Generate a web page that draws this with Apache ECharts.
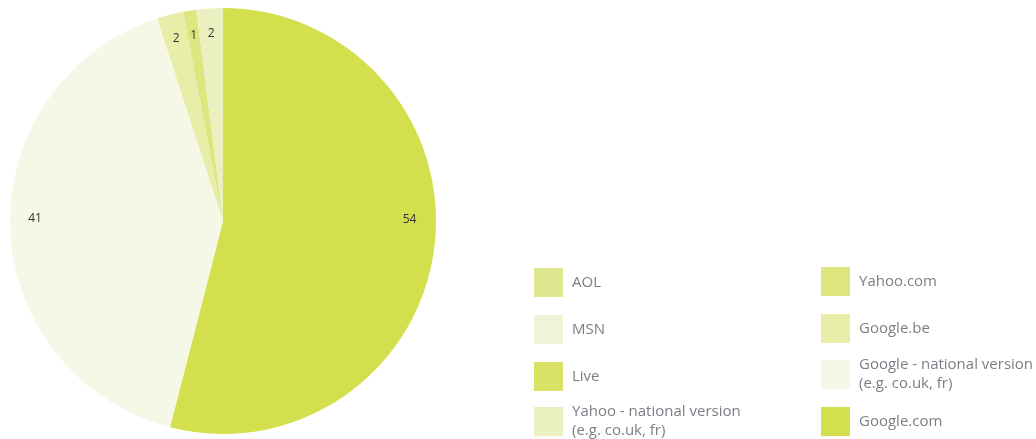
<!DOCTYPE html>
<html>
<head>
<meta charset="utf-8">
<script src="https://cdn.jsdelivr.net/npm/echarts@6/dist/echarts.min.js"></script>
<style>
  html, body { margin: 0; padding: 0; background: #fff; }
  #chart { width: 1036px; height: 439px; }
</style>
</head>
<body>
<div id="chart"></div>
<script>
// 数据（按饼图顺时针顺序，从12点开始）
const engines = [
  'Google.com',
  'Google - national version (e.g. co.uk, fr)',
  'Google.be',
  'Yahoo.com',
  'Yahoo - national version (e.g. co.uk, fr)',
  'Live',
  'MSN',
  'AOL'
]
const shares = [54, 41, 2, 1, 2, 0, 0, 0]
const colors = ['#d4df4e', '#f5f8e6', '#e8eea8', '#dde67f', '#ebf0c0', '#d9e265', '#f0f4d7', '#e0e88f']

// 图例两列
const legendLeft = ['AOL', 'MSN', 'Live', 'Yahoo - national version (e.g. co.uk, fr)']
const legendRight = ['Yahoo.com', 'Google.be', 'Google - national version (e.g. co.uk, fr)', 'Google.com']

const chart = echarts.init(document.getElementById('chart'))

const pieData = engines.map((name, i) => ({
  name: name,
  value: shares[i],
  itemStyle: { color: colors[i] }
}))

// 每个图例项单独一个 legend，方便对齐
const legendTops = [[268, 315, 362, 407], [267, 314, 360, 407]]
const legendLefts = [534, 821]
const legends = []
;[legendLeft, legendRight].forEach((col, c) => {
  col.forEach((name, r) => {
    const twoLine = name.indexOf(' (') > 0
    legends.push({
      data: [name],
      left: legendLefts[c],
      top: legendTops[c][r] - (twoLine ? 4.5 : 0),
      padding: 0,
      itemWidth: 29,
      itemHeight: 29,
      icon: 'rect',
      selectedMode: false,
      formatter: (n) => n.replace(' (', '\n('),
      textStyle: {
        fontFamily: 'Open Sans',
        fontSize: 15,
        color: '#7a7f85',
        lineHeight: 19,
        padding: [0, 0, 0, 4]
      }
    })
  })
})

// 大块的标签在原图里是水平放的，稍微上移
const labelShift = [-25, -8, 0, 0, 0, 0, 0, 0]

const option = {
  animation: false,
  legend: legends,
  series: [
    {
      name: 'share',
      type: 'pie',
      center: [223, 221],
      radius: [0, 213],
      startAngle: 90,
      clockwise: true,
      label: { show: false },
      labelLine: { show: false },
      emphasis: { disabled: true },
      data: pieData
    },
    {
      // 只用于放置数值标签（靠近外缘）
      name: 'labels',
      type: 'pie',
      center: [223, 221],
      radius: [164, 206],
      startAngle: 90,
      clockwise: true,
      silent: true,
      itemStyle: { color: 'rgba(0,0,0,0)' },
      label: {
        show: true,
        position: 'inside',
        formatter: (p) => (p.value ? String(p.value) : ''),
        fontFamily: 'Open Sans',
        fontSize: 12,
        color: '#333'
      },
      labelLayout: (p) => ({ dy: labelShift[p.dataIndex] }),
      labelLine: { show: false },
      emphasis: { disabled: true },
      data: engines.map((name, i) => ({ name: name, value: shares[i] }))
    }
  ]
}

chart.setOption(option)
</script>
</body>
</html>
